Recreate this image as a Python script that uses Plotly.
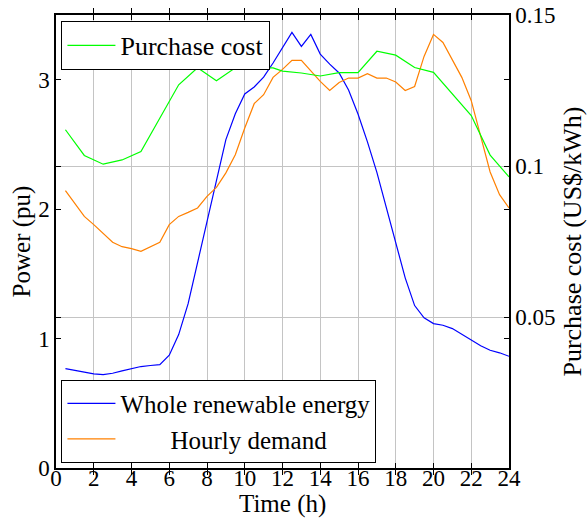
import plotly.graph_objects as go

# Half-hourly time stamps (h)
hours = [0.5, 1.0, 1.5, 2.0, 2.5, 3.0, 3.5, 4.0, 4.5, 5.0, 5.5, 6.0,
         6.5, 7.0, 7.5, 8.0, 8.5, 9.0, 9.5, 10.0, 10.5, 11.0, 11.5, 12.0,
         12.5, 13.0, 13.5, 14.0, 14.5, 15.0, 15.5, 16.0, 16.5, 17.0, 17.5, 18.0,
         18.5, 19.0, 19.5, 20.0, 20.5, 21.0, 21.5, 22.0, 22.5, 23.0, 23.5, 24.0]

# Whole renewable energy (pu)
renewable = [0.768, 0.755, 0.740, 0.727, 0.722, 0.732, 0.750, 0.768, 0.784, 0.792, 0.799, 0.871,
             1.031, 1.270, 1.585, 1.910, 2.230, 2.537, 2.737, 2.890, 2.944, 3.020, 3.129, 3.250,
             3.365, 3.257, 3.350, 3.198, 3.120, 3.052, 2.920, 2.735, 2.520, 2.284, 2.010, 1.740,
             1.469, 1.255, 1.160, 1.116, 1.103, 1.077, 1.031, 0.985, 0.944, 0.910, 0.890, 0.863]

# Hourly demand (pu)
demand = [2.143, 2.040, 1.944, 1.880, 1.810, 1.744, 1.710, 1.695, 1.674, 1.710, 1.744, 1.880,
          1.944, 1.975, 2.009, 2.099, 2.168, 2.280, 2.420, 2.627, 2.815, 2.884, 3.018, 3.080,
          3.149, 3.149, 3.064, 2.987, 2.917, 2.979, 3.013, 3.013, 3.046, 3.013, 3.013, 2.982,
          2.917, 2.948, 3.180, 3.350, 3.288, 3.154, 3.018, 2.838, 2.562, 2.287, 2.112, 2.009]

# Purchase cost (US$/kWh)
cost_hours = [0.5, 1.5, 2.5, 3.5, 4.5, 6.5, 7.5, 8.5, 9.5, 11.5, 12.0,
              13.0, 14.0, 15.0, 16.0, 17.0, 18.0, 19.0, 20.0, 22.0, 23.0, 24.0]
cost = [0.1120, 0.1035, 0.1006, 0.1020, 0.1048, 0.1269, 0.1325, 0.1282, 0.1325, 0.1325, 0.1314,
        0.1308, 0.1298, 0.1309, 0.1309, 0.1380, 0.1367, 0.1326, 0.1310, 0.1167, 0.1036, 0.0964]

x_ticks = [0, 2, 4, 6, 8, 10, 12, 14, 16, 18, 20, 22, 24]
power_ticks = [0, 1, 2, 3]
cost_ticks = [0.05, 0.1, 0.15]
cost_tick_text = ["0.05", "0.1", "0.15"]

FONT = "Liberation Serif, DejaVu Serif, serif"
GRID = "#c4c4c4"
TICK_SIZE = 23
TEXT_SIZE = 25

fig = go.Figure()

fig.add_trace(go.Scatter(x=hours, y=renewable, mode="lines", name="Whole renewable energy",
                         line=dict(color="rgb(0,0,255)", width=1.2), legend="legend2",
                         showlegend=True))
fig.add_trace(go.Scatter(x=hours, y=demand, mode="lines",
                         name="\u2002\u2002\u2002\u2002Hourly demand",
                         line=dict(color="rgb(255,128,0)", width=1.2), legend="legend2",
                         showlegend=True))
fig.add_trace(go.Scatter(x=cost_hours, y=cost, mode="lines", name="Purchase cost",
                         line=dict(color="rgb(0,255,0)", width=1.2), yaxis="y2", legend="legend",
                         showlegend=True))

axis_common = dict(ticks="inside", ticklen=5, tickwidth=1, tickcolor="black",
                   showline=True, linecolor="black", linewidth=1.5,
                   zeroline=False, mirror="allticks", automargin=False,
                   tickfont=dict(family=FONT, size=TICK_SIZE, color="black"))

legend_common = dict(visible=True, bgcolor="white", bordercolor="black", borderwidth=1,
                     itemwidth=48)

fig.update_layout(
    width=587, height=518,
    margin=dict(l=56, r=78, t=15, b=50, autoexpand=False),
    paper_bgcolor="white", plot_bgcolor="white",
    font=dict(family=FONT, size=TEXT_SIZE, color="black"),
    showlegend=True,
    xaxis=dict(range=[0, 24], tickvals=x_ticks, showgrid=True, gridcolor=GRID, gridwidth=1,
               ticklabelstandoff=-11, **axis_common),
    yaxis=dict(range=[0, 3.5], tickvals=power_ticks, showgrid=False,
               title=dict(text="Power (pu)", standoff=0, font=dict(family=FONT, size=TEXT_SIZE)),
               **axis_common),
    yaxis2=dict(range=[0, 0.15], tickvals=cost_ticks, ticktext=cost_tick_text,
                overlaying="y", side="right", showgrid=True, gridcolor=GRID, gridwidth=1,
                title=dict(text="Purchase cost (US$/kWh)", standoff=9,
                           font=dict(family=FONT, size=26)),
                **axis_common),
    legend=dict(x=0.012, y=0.987, xanchor="left", yanchor="top",
                font=dict(family=FONT, size=26, color="black"), **legend_common),
    legend2=dict(x=0.012, y=0.012, xanchor="left", yanchor="bottom", tracegroupgap=0,
                 font=dict(family=FONT, size=TEXT_SIZE, color="black"), **legend_common),
    annotations=[dict(text="Time (h)", xref="paper", yref="paper", x=0.5, y=-0.079,
                      xanchor="center", yanchor="middle", showarrow=False,
                      font=dict(family=FONT, size=25, color="black"))],
)

fig.write_html("out.html")
